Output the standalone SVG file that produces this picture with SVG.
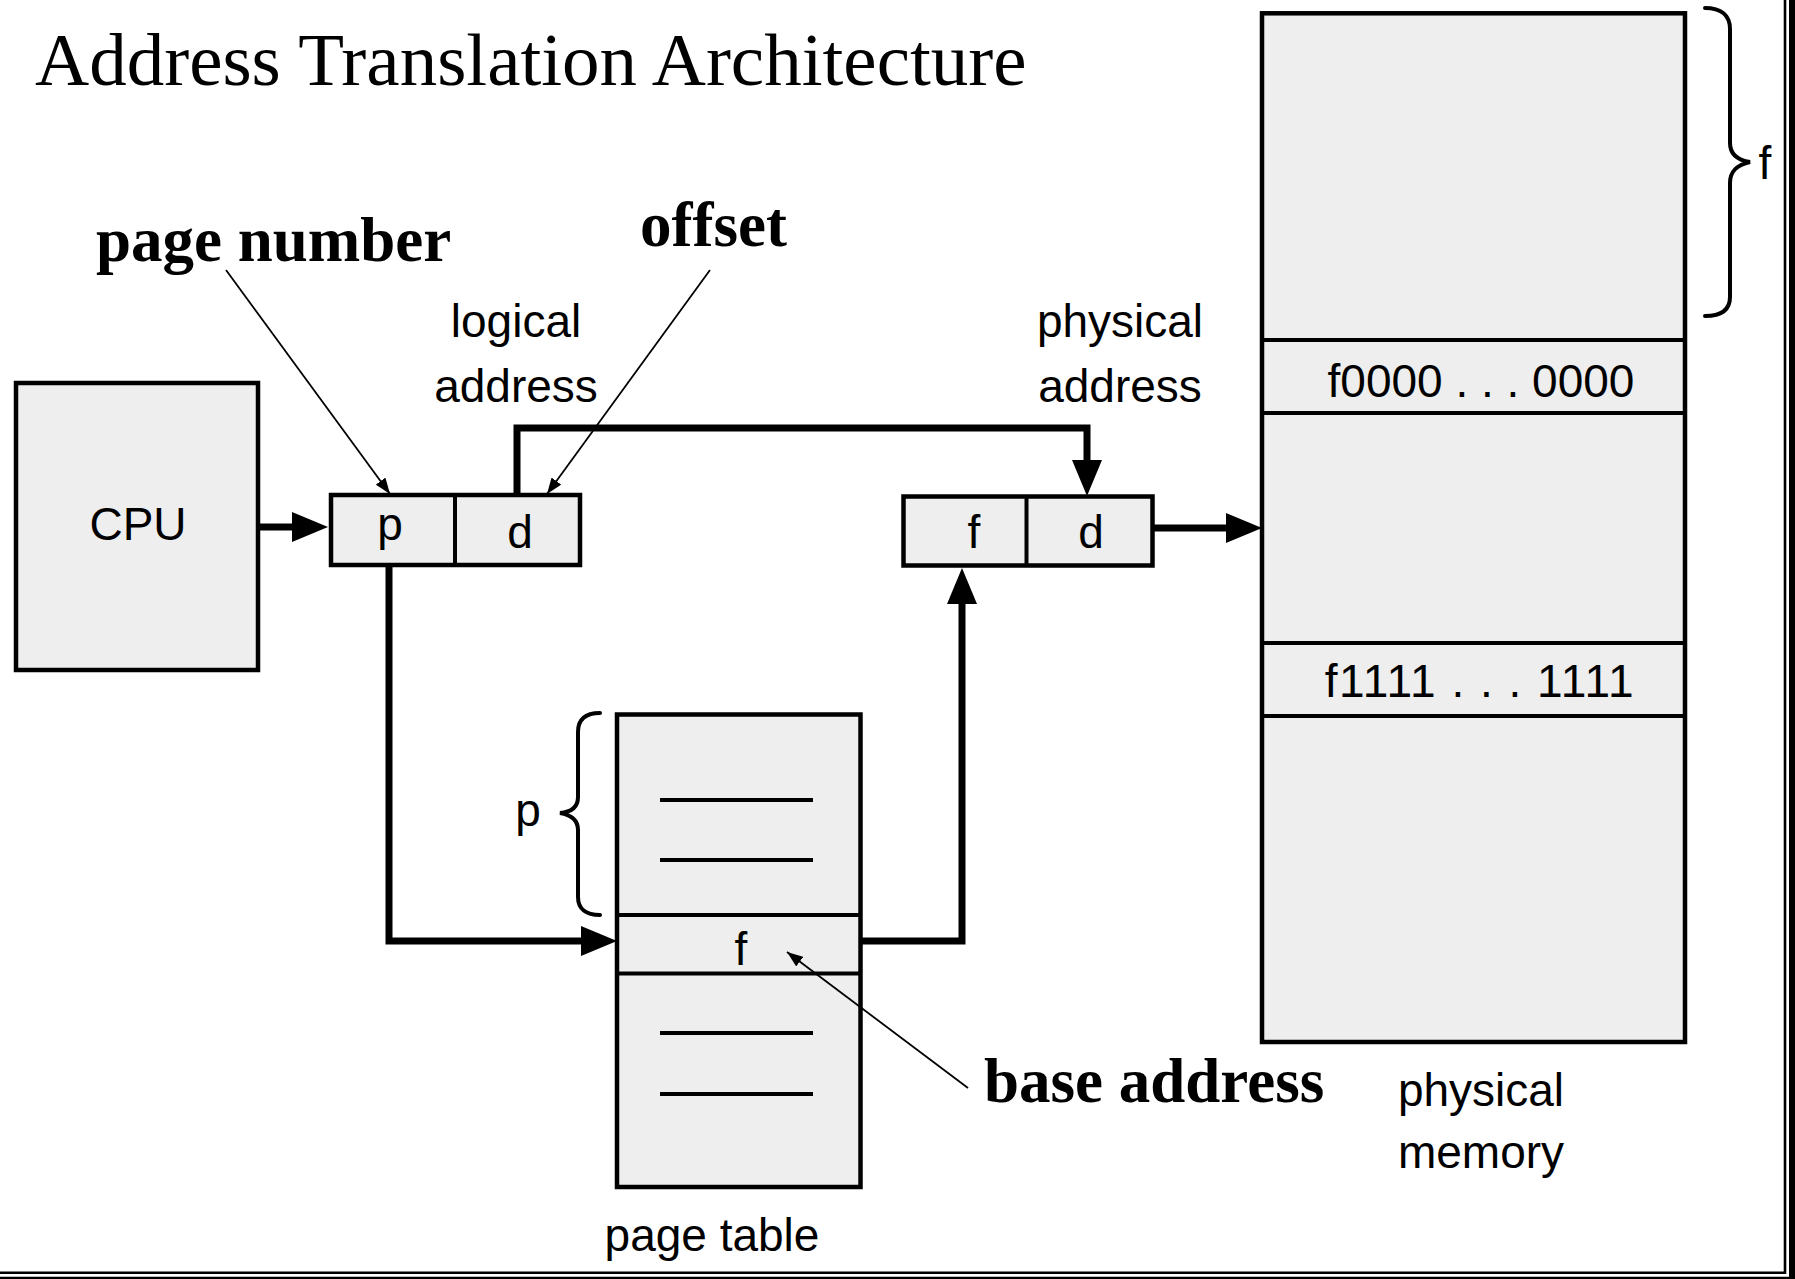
<svg xmlns="http://www.w3.org/2000/svg" width="1795" height="1279" viewBox="0 0 1795 1279">
  <defs>
    <style>
      .box { fill: #eeeeee; stroke: #000; stroke-width: 4.5; }
      .div { fill: none; stroke: #000; stroke-width: 4; }
      .entry { fill: none; stroke: #000; stroke-width: 4; }
      .sans { font-family: "Liberation Sans", Arial, sans-serif; font-size: 46px; fill: #000; }
      .title { font-family: "Liberation Serif", "Times New Roman", serif; font-size: 75px; fill: #000; }
      .bold { font-family: "Liberation Serif", "Times New Roman", serif; font-size: 63px; font-weight: bold; fill: #000; }
      .thick { fill: none; stroke: #000; stroke-width: 7; stroke-linejoin: miter; }
      .thin { fill: none; stroke: #000; stroke-width: 1.8; }
      .brace { fill: none; stroke: #000; stroke-width: 4; stroke-linecap: round; }
      .frame { stroke: #000; }
    </style>
    <marker id="bigArrow" markerUnits="userSpaceOnUse" markerWidth="36" markerHeight="30" refX="0" refY="15" orient="auto">
      <path d="M0,0 L36,15 L0,30 z" fill="#000"/>
    </marker>
    <marker id="smallArrow" markerUnits="userSpaceOnUse" markerWidth="16" markerHeight="12" refX="16" refY="6" orient="auto">
      <path d="M0,0 L16,6 L0,12 z" fill="#000"/>
    </marker>
  </defs>

  <rect width="1795" height="1279" fill="#ffffff"/>

  <!-- frame -->
  <g id="frame">
    <line class="frame" x1="1785" y1="0" x2="1785" y2="1274" stroke-width="2.6"/>
    <rect x="1789" y="0" width="6" height="1279" fill="#000"/>
    <line class="frame" x1="0" y1="1272.8" x2="1786" y2="1272.8" stroke-width="2.4"/>
    <line class="frame" x1="0" y1="1277.9" x2="1790" y2="1277.9" stroke-width="2.4"/>
  </g>

  <!-- title and annotations -->
  <g id="title">
    <text class="title" x="35" y="85">Address Translation Architecture</text>
  </g>
  <g id="label-page-number">
    <text class="bold" x="96" y="261">page number</text>
  </g>
  <g id="label-offset">
    <text class="bold" x="640" y="246">offset</text>
  </g>
  <g id="label-base-address">
    <text class="bold" x="984" y="1102">base address</text>
  </g>

  <!-- CPU -->
  <g id="cpu">
    <rect class="box" x="16" y="383" width="242" height="287"/>
    <text class="sans" x="138" y="540" text-anchor="middle">CPU</text>
  </g>

  <!-- logical address -->
  <g id="logical-address">
    <text class="sans" x="516" y="337" text-anchor="middle">logical</text>
    <text class="sans" x="516" y="402" text-anchor="middle">address</text>
    <rect class="box" x="331" y="495" width="249" height="70"/>
    <line class="div" x1="455" y1="495" x2="455" y2="565"/>
    <text class="sans" x="390" y="540" text-anchor="middle">p</text>
    <text class="sans" x="520" y="548" text-anchor="middle">d</text>
  </g>

  <!-- physical address -->
  <g id="physical-address">
    <text class="sans" x="1120" y="337" text-anchor="middle">physical</text>
    <text class="sans" x="1120" y="402" text-anchor="middle">address</text>
    <rect class="box" x="903.5" y="496.5" width="249" height="69"/>
    <line class="div" x1="1026.5" y1="496.5" x2="1026.5" y2="565.5"/>
    <text class="sans" x="974" y="548" text-anchor="middle">f</text>
    <text class="sans" x="1091" y="548" text-anchor="middle">d</text>
  </g>

  <!-- page table -->
  <g id="page-table">
    <rect class="box" x="617" y="714.5" width="243.5" height="472.5"/>
    <line class="div" x1="617" y1="915" x2="860.5" y2="915"/>
    <line class="div" x1="617" y1="973.5" x2="860.5" y2="973.5"/>
    <line class="entry" x1="660" y1="800" x2="813" y2="800"/>
    <line class="entry" x1="660" y1="860" x2="813" y2="860"/>
    <line class="entry" x1="660" y1="1033" x2="813" y2="1033"/>
    <line class="entry" x1="660" y1="1094" x2="813" y2="1094"/>
    <text class="sans" x="741" y="965" text-anchor="middle">f</text>
    <path class="brace" d="M600,713 C586,713 578,719 578,732 L578,797 C578,807 572,812 560,813 C572,815 578,820 578,830 L578,897 C578,909 586,915 600,915"/>
    <text class="sans" x="528" y="826" text-anchor="middle">p</text>
    <text class="sans" x="712" y="1251" text-anchor="middle">page table</text>
  </g>

  <!-- physical memory -->
  <g id="physical-memory">
    <rect class="box" x="1262" y="13.3" width="423" height="1028.7"/>
    <line class="div" x1="1262" y1="340" x2="1685" y2="340"/>
    <line class="div" x1="1262" y1="413" x2="1685" y2="413"/>
    <line class="div" x1="1262" y1="643" x2="1685" y2="643"/>
    <line class="div" x1="1262" y1="716" x2="1685" y2="716"/>
    <text class="sans" x="1481" y="397" text-anchor="middle">f0000 . . . 0000</text>
    <text class="sans" x="1480" y="697" text-anchor="middle" letter-spacing="1.5">f1111 . . . 1111</text>
    <path class="brace" d="M1705,8 C1721,8 1730,15 1730,29 L1730,143 C1730,154 1737,160 1750,162 C1737,165 1730,171 1730,183 L1730,297 C1730,310 1721,316 1705,316"/>
    <text class="sans" x="1765" y="179" text-anchor="middle">f</text>
    <text class="sans" x="1481" y="1106" text-anchor="middle">physical</text>
    <text class="sans" x="1481" y="1168" text-anchor="middle">memory</text>
  </g>

  <!-- connectors -->
  <g id="connectors">
    <path class="thick" d="M258,527 H292" marker-end="url(#bigArrow)"/>
    <path class="thick" d="M517,495 V428 H1087 V460" marker-end="url(#bigArrow)"/>
    <path class="thick" d="M1153,528 H1226" marker-end="url(#bigArrow)"/>
    <path class="thick" d="M389,566 V941 H581" marker-end="url(#bigArrow)"/>
    <path class="thick" d="M861,941 H962 V604" marker-end="url(#bigArrow)"/>
    <path class="thin" d="M226,270 L390,494" marker-end="url(#smallArrow)"/>
    <path class="thin" d="M710,270 L547,494" marker-end="url(#smallArrow)"/>
    <path class="thin" d="M968,1088 L787,952" marker-end="url(#smallArrow)"/>
  </g>
</svg>
